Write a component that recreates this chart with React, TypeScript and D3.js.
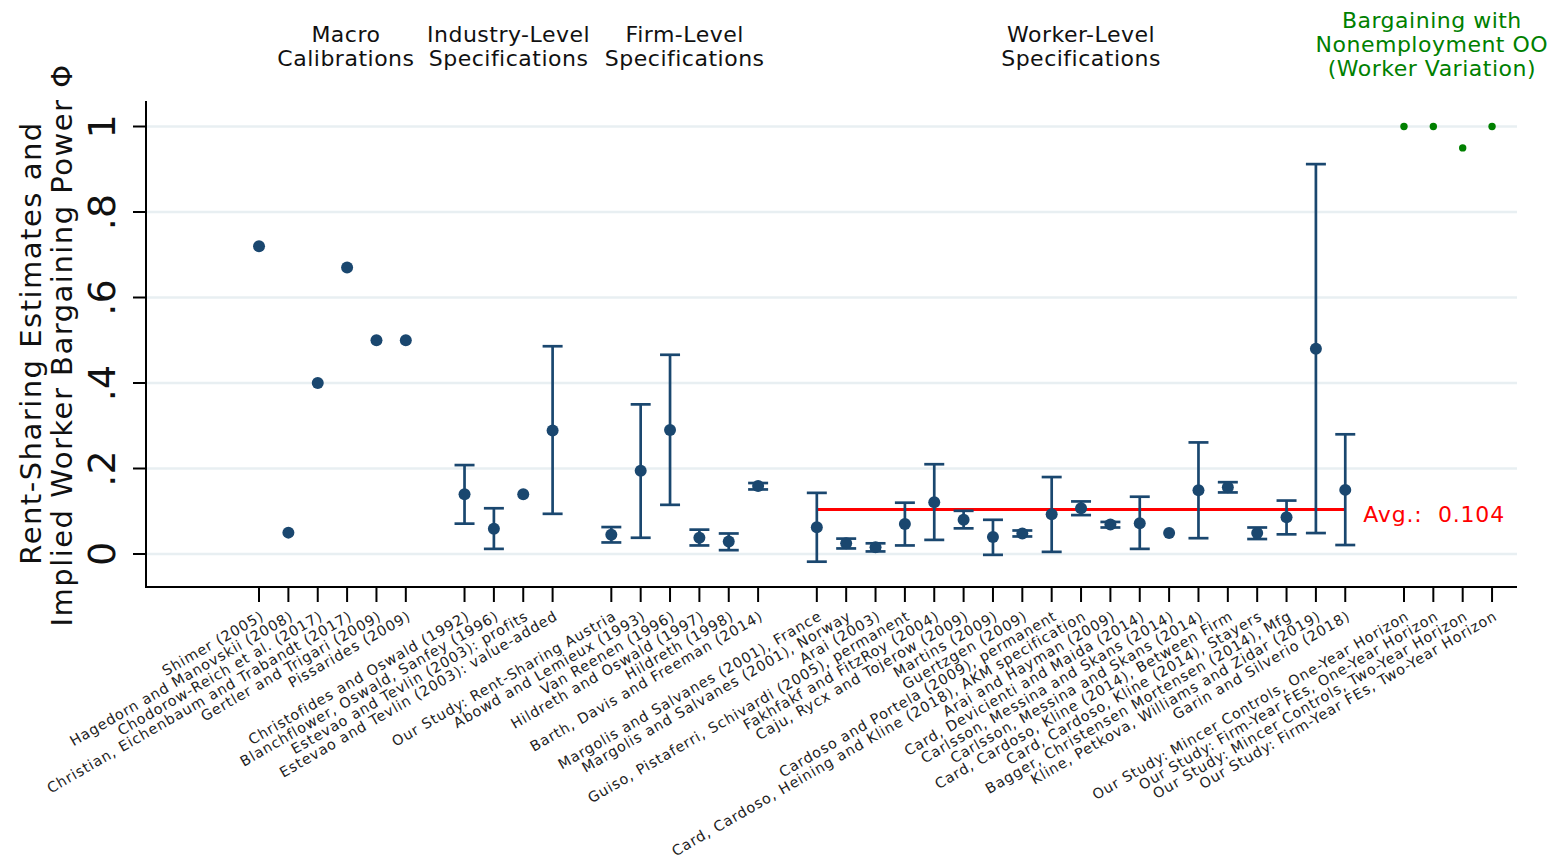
import React from "react";
import * as d3 from "d3";

// ---------- data ----------
const categories: string[] = [
  "Shimer (2005)",
  "Hagedorn and Manovskii (2008)",
  "Chodorow-Reich et al. (2017)",
  "Christian, Eichenbaum and Trabandt (2017)",
  "Gertler and Trigari (2009)",
  "Pissarides (2009)",
  "Christofides and Oswald (1992)",
  "Blanchflower, Oswald, Sanfey (1996)",
  "Estevao and Tevlin (2003): profits",
  "Estevao and Tevlin (2003): value-added",
  "Our Study: Rent-Sharing Austria",
  "Abowd and Lemieux (1993)",
  "Van Reenen (1996)",
  "Hildreth and Oswald (1997)",
  "Hildreth (1998)",
  "Barth, Davis and Freeman (2014)",
  "Margolis and Salvanes (2001), France",
  "Margolis and Salvanes (2001), Norway",
  "Arai (2003)",
  "Guiso, Pistaferri, Schivardi (2005), permanent",
  "Fakhfakf and FitzRoy (2004)",
  "Caju, Rycx and Tojerow (2009)",
  "Martins (2009)",
  "Guertzgen (2009)",
  "Cardoso and Portela (2009), permanent",
  "Card, Cardoso, Heining and Kline (2018), AKM specification",
  "Arai and Hayman (2009)",
  "Card, Devicienti and Maida (2014)",
  "Carlsson, Messina and Skans (2014)",
  "Carlsson, Messina and Skans (2014)",
  "Card, Cardoso, Kline (2014), Between Firm",
  "Card, Cardoso, Kline (2014), Stayers",
  "Bagger, Christensen Mortensen (2014), Mfg",
  "Kline, Petkova, Williams and Zidar (2019)",
  "Garin and Silverio (2018)",
  "Our Study: Mincer Controls, One-Year Horizon",
  "Our Study: Firm-Year FEs, One-Year Horizon",
  "Our Study: Mincer Controls, Two-Year Horizon",
  "Our Study: Firm-Year FEs, Two-Year Horizon",
];

const estimates: number[] = [
  0.72, 0.05, 0.4, 0.67, 0.5, 0.5,
  0.14, 0.059, 0.14, 0.289,
  0.045, 0.195, 0.29, 0.038, 0.029, 0.159,
  0.0625, 0.025, 0.016, 0.07, 0.121, 0.08, 0.04, 0.048, 0.093, 0.107,
  0.069, 0.072, 0.049, 0.149, 0.156, 0.049, 0.086, 0.48, 0.15,
  1.0, 1.0, 0.95, 1.0,
];

const ciLow: (number | null)[] = [
  null, null, null, null, null, null,
  0.071, 0.012, null, 0.094,
  0.027, 0.038, 0.115, 0.02, 0.009, 0.151,
  -0.018, 0.013, 0.006, 0.02, 0.033, 0.06, -0.002, 0.041, 0.005, 0.091,
  0.062, 0.012, null, 0.037, 0.144, 0.035, 0.046, 0.049, 0.021,
  null, null, null, null,
];

const ciHigh: (number | null)[] = [
  null, null, null, null, null, null,
  0.208, 0.107, null, 0.486,
  0.063, 0.35, 0.466, 0.057, 0.048, 0.166,
  0.143, 0.036, 0.025, 0.12, 0.21, 0.101, 0.08, 0.055, 0.18, 0.123,
  0.075, 0.134, null, 0.261, 0.168, 0.062, 0.125, 0.912, 0.28,
  null, null, null, null,
];

const groupSizes: number[] = [6, 4, 6, 19, 4];
const groupHeaders: string[][] = [
  ["Macro", "Calibrations"],
  ["Industry-Level", "Specifications"],
  ["Firm-Level", "Specifications"],
  ["Worker-Level", "Specifications"],
  ["Bargaining with", "Nonemployment OO", "(Worker Variation)"],
];
const headerSlots: number[] = [3.96, 9.5, 15.5, 29, 40.95];
const averageGroup = 3;
const averageValue = 0.104;
const yTicks: number[] = [0, 0.2, 0.4, 0.6, 0.8, 1];
const yTickLabels: string[] = ["0", ".2", ".4", ".6", ".8", "1"];

// ---------- layout ----------
const W = 1558;
const H = 859;
const NAVY = "#1a476f";
const GREEN = "#008000";
const RED = "#ff0000";
const GRID = "#e8eff2";
const FONT = "'DejaVu Sans', sans-serif";

const groupIndex: number[] = [];
groupSizes.forEach((n, g) => {
  for (let k = 0; k < n; k++) groupIndex.push(g);
});
const slots = categories.map((_, i) => i + 1 + groupIndex[i]);

const x = d3.scaleLinear().domain([-2.85, 43.85]).range([146, 1517]);
const y = d3.scaleLinear().domain([0, 1]).range([554, 126.5]);
const axisBottom = 587;
const axisTop = 101;

export default function App() {
  const avgIdx = slots.filter((_, i) => groupIndex[i] === averageGroup);
  const avgX0 = x(d3.min(avgIdx) as number);
  const avgX1 = x(d3.max(avgIdx) as number);
  const capHalf = 10;

  return (
    <svg
      width={W}
      height={H}
      style={{ position: "absolute", left: 0, top: 0, background: "#fff" }}
      fontFamily={FONT}
    >
      {/* gridlines */}
      {yTicks.map((t) => (
        <line key={"g" + t} x1={x.range()[0] + 1} x2={x.range()[1]} y1={y(t)} y2={y(t)} stroke={GRID} strokeWidth={2.4} />
      ))}

      {/* axes */}
      <line x1={146} x2={146} y1={axisTop} y2={axisBottom + 1} stroke="#000" strokeWidth={2} />
      <line x1={145} x2={x.range()[1]} y1={axisBottom} y2={axisBottom} stroke="#000" strokeWidth={2} />
      {yTicks.map((t, i) => (
        <g key={"yt" + t}>
          <line x1={133} x2={146} y1={y(t)} y2={y(t)} stroke="#000" strokeWidth={2} />
          <text
            transform={`translate(115,${y(t)}) rotate(-90)`}
            textAnchor="middle"
            fontSize={38}
            fill="#111"
          >
            {yTickLabels[i]}
          </text>
        </g>
      ))}
      {slots.map((s, i) => (
        <line key={"xt" + i} x1={x(s)} x2={x(s)} y1={axisBottom} y2={axisBottom + 15} stroke="#000" strokeWidth={2} />
      ))}

      {/* y title */}
      <g transform={`translate(41,343) rotate(-90)`}>
        <text textAnchor="middle" fontSize={29} letterSpacing={1.5} fill="#111">
          Rent-Sharing Estimates and
        </text>
      </g>
      <g transform={`translate(72,345) rotate(-90)`}>
        <text textAnchor="middle" fontSize={29} letterSpacing={1.5} fill="#111">
          Implied Worker Bargaining Power Φ
        </text>
      </g>

      {/* x labels */}
      {categories.map((c, i) => (
        <text
          key={"xl" + i}
          transform={`translate(${x(slots[i]) + 6},619) rotate(-30)`}
          textAnchor="end"
          fontSize={14.4}
          letterSpacing={0.85}
          fill="#222"
        >
          {c}
        </text>
      ))}

      {/* headers */}
      {groupHeaders.map((lines, g) => {
        const green = g === groupHeaders.length - 1;
        const y0 = green ? 28 : 41.5;
        return (
          <text
            key={"h" + g}
            x={x(headerSlots[g])}
            y={y0}
            textAnchor="middle"
            fontSize={22}
            letterSpacing={0.5}
            fill={green ? GREEN : "#111"}
          >
            {lines.map((l, k) => (
              <tspan key={k} x={x(headerSlots[g])} dy={k === 0 ? 0 : 24}>
                {l}
              </tspan>
            ))}
          </text>
        );
      })}

      {/* average line */}
      <line x1={avgX0} x2={avgX1} y1={y(averageValue)} y2={y(averageValue)} stroke={RED} strokeWidth={3} />
      <text
        x={avgX1 + 18}
        y={y(averageValue) + 12.5}
        fontSize={22}
        letterSpacing={0.8}
        fill={RED}
        style={{ whiteSpace: "pre" }}
      >
        {"Avg.:  " + averageValue.toFixed(3)}
      </text>

      {/* error bars */}
      {categories.map((_, i) => {
        const lo = ciLow[i];
        const hi = ciHigh[i];
        if (lo === null || hi === null) return null;
        const cx = x(slots[i]);
        return (
          <g key={"e" + i} stroke={NAVY} strokeWidth={2.7}>
            <line x1={cx} x2={cx} y1={y(lo)} y2={y(hi)} />
            <line x1={cx - capHalf} x2={cx + capHalf} y1={y(lo)} y2={y(lo)} />
            <line x1={cx - capHalf} x2={cx + capHalf} y1={y(hi)} y2={y(hi)} />
          </g>
        );
      })}

      {/* points */}
      {categories.map((_, i) => {
        const green = groupIndex[i] === groupSizes.length - 1;
        return (
          <circle
            key={"p" + i}
            cx={x(slots[i])}
            cy={y(estimates[i])}
            r={green ? 3.7 : 6}
            fill={green ? GREEN : NAVY}
          />
        );
      })}
    </svg>
  );
}
